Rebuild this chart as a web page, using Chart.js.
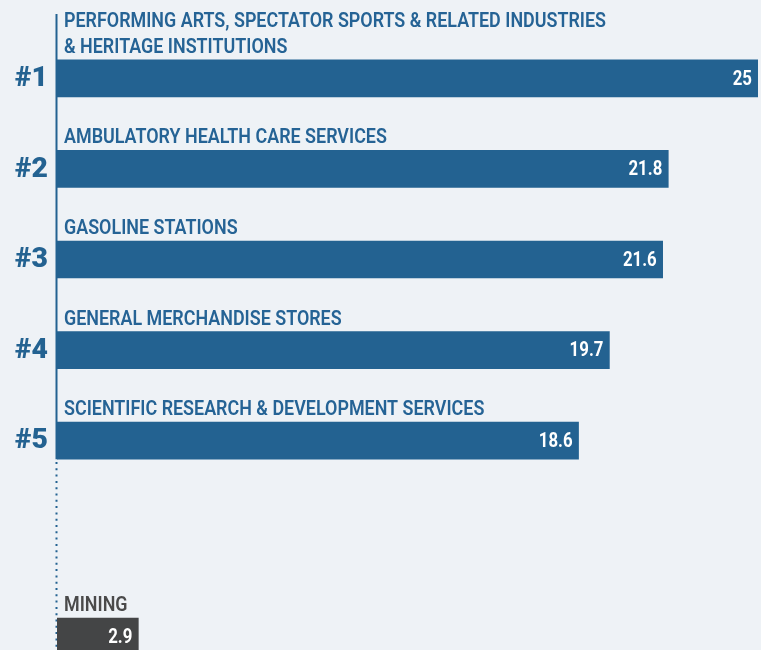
<!DOCTYPE html>
<html>
<head>
<meta charset="utf-8">
<script src="https://cdn.jsdelivr.net/npm/chart.js@4.4.1/dist/chart.umd.min.js"></script>
<style>
  html, body { margin: 0; padding: 0; width: 761px; height: 650px; overflow: hidden; background: #eef2f6; }
  #top { position: absolute; left: 0; top: 0; }
  #bottom { position: absolute; left: 0; top: 459px; }
</style>
</head>
<body>
<canvas id="top" width="761" height="486"></canvas>
<canvas id="bottom" width="761" height="217"></canvas>
<script>
// top five industries
const ranks = ['#1', '#2', '#3', '#4', '#5'];
const industries = [
  ['PERFORMING ARTS, SPECTATOR SPORTS & RELATED INDUSTRIES', '& HERITAGE INSTITUTIONS'],
  ['AMBULATORY HEALTH CARE SERVICES'],
  ['GASOLINE STATIONS'],
  ['GENERAL MERCHANDISE STORES'],
  ['SCIENTIFIC RESEARCH & DEVELOPMENT SERVICES']
];
const values = [25, 21.8, 21.6, 19.7, 18.6];

// lowest industry
const lowIndustries = [['MINING']];
const lowValues = [2.9];

const BLUE = '#236291';
const GREY = '#444546';
const FONT = 'Roboto, "DejaVu Sans Condensed", sans-serif';

// squeeze text horizontally, the original uses a condensed face
function squeezed(ctx, text, x, y, sx) {
  ctx.save();
  ctx.translate(x, y);
  ctx.scale(sx, 1);
  ctx.fillText(text, 0, 0);
  ctx.restore();
}

function labelPlugin(opts) {
  return {
    id: 'labels',
    afterDatasetsDraw(chart) {
      const ctx = chart.ctx;
      const meta = chart.getDatasetMeta(0);
      const labels = chart.data.labels;
      ctx.save();
      ctx.font = '600 20px ' + FONT;
      const sx = 542 / ctx.measureText(industries[0][0]).width;
      meta.data.forEach((bar, i) => {
        const top = bar.y - bar.height / 2;
        // category label above bar
        ctx.fillStyle = opts.textColor;
        ctx.font = '600 20px ' + FONT;
        ctx.textAlign = 'left';
        ctx.textBaseline = 'alphabetic';
        const lines = labels[i];
        for (let j = 0; j < lines.length; j++) {
          const y = top - 7 - (lines.length - 1 - j) * 26;
          squeezed(ctx, lines[j], 64, y, sx);
        }
        // value inside bar end
        ctx.fillStyle = '#ffffff';
        ctx.font = 'bold 21px ' + FONT;
        ctx.textAlign = 'right';
        ctx.textBaseline = 'middle';
        squeezed(ctx, String(chart.data.datasets[0].data[i]), bar.x - 6, bar.y + 1, 0.8);
        // rank on the left
        if (opts.ranks) {
          ctx.fillStyle = BLUE;
          ctx.font = '900 27px ' + FONT;
          squeezed(ctx, opts.ranks[i], 48, bar.y + 1, 1.05);
        }
      });
      ctx.restore();
    },
    beforeDatasetsDraw(chart) {
      const ctx = chart.ctx;
      const meta = chart.getDatasetMeta(0);
      ctx.save();
      ctx.strokeStyle = BLUE;
      ctx.lineWidth = 2;
      if (opts.solid) {
        const last = meta.data[meta.data.length - 1];
        ctx.beginPath();
        ctx.moveTo(56.5, 14);
        ctx.lineTo(56.5, last.y + last.height / 2);
        ctx.stroke();
      } else {
        ctx.setLineDash([2, 4.3]);
        ctx.beginPath();
        ctx.moveTo(56.5, 3);
        ctx.lineTo(56.5, chart.height);
        ctx.stroke();
      }
      ctx.restore();
    }
  };
}

function makeChart(id, labels, data, color, padding, plugin) {
  return new Chart(document.getElementById(id), {
    type: 'bar',
    data: {
      labels: labels,
      datasets: [{
        data: data,
        backgroundColor: color,
        barThickness: 37,
        borderWidth: 0
      }]
    },
    options: {
      indexAxis: 'y',
      responsive: false,
      animation: false,
      layout: { padding: padding },
      plugins: { legend: { display: false }, tooltip: { enabled: false } },
      scales: {
        x: { min: 0, max: 25, display: false },
        y: { display: false }
      }
    },
    plugins: [plugin]
  });
}

makeChart('top', industries, values, BLUE,
  { left: 57, right: 3, top: 33, bottom: 0 },
  labelPlugin({ textColor: '#256395', ranks: ranks, solid: true }));

makeChart('bottom', lowIndustries, lowValues, GREY,
  { left: 57, right: 3, top: 138, bottom: 0 },
  labelPlugin({ textColor: '#4a4a4a', solid: false }));
</script>
</body>
</html>
